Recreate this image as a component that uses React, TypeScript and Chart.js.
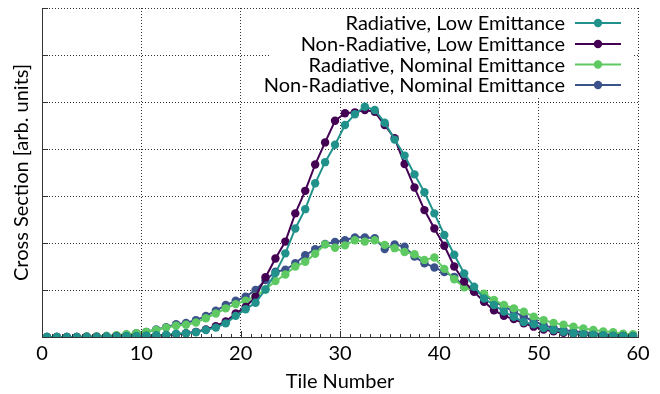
import { useEffect, useRef } from 'react';
import { Chart, registerables } from 'chart.js';

Chart.register(...registerables);

const tileNumbers = [
  0.5, 1.5, 2.5, 3.5, 4.5, 5.5, 6.5, 7.5, 8.5, 9.5,
  10.5, 11.5, 12.5, 13.5, 14.5, 15.5, 16.5, 17.5, 18.5, 19.5,
  20.5, 21.5, 22.5, 23.5, 24.5, 25.5, 26.5, 27.5, 28.5, 29.5,
  30.5, 31.5, 32.5, 33.5, 34.5, 35.5, 36.5, 37.5, 38.5, 39.5,
  40.5, 41.5, 42.5, 43.5, 44.5, 45.5, 46.5, 47.5, 48.5, 49.5,
  50.5, 51.5, 52.5, 53.5, 54.5, 55.5, 56.5, 57.5, 58.5, 59.5,
];

const radiativeLow = [
  0.0, 0.0, 0.0, 0.0, 0.0, 0.0, 0.01, 0.01, 0.02, 0.02,
  0.03, 0.04, 0.05, 0.07, 0.08, 0.10, 0.15, 0.20, 0.29, 0.45,
  0.59, 0.73, 1.01, 1.36, 1.78, 2.31, 2.72, 3.27, 3.72, 4.09,
  4.51, 4.74, 4.90, 4.83, 4.56, 4.20, 3.86, 3.46, 3.08, 2.63,
  2.17, 1.75, 1.35, 1.07, 0.82, 0.68, 0.54, 0.43, 0.32, 0.27,
  0.19, 0.15, 0.11, 0.08, 0.06, 0.05, 0.04, 0.03, 0.02, 0.02,
];

const nonRadiativeLow = [
  0.0, 0.0, 0.0, 0.0, 0.0, 0.0, 0.0, 0.01, 0.01, 0.01,
  0.02, 0.03, 0.04, 0.06, 0.08, 0.11, 0.16, 0.23, 0.33, 0.50,
  0.64, 0.86, 1.27, 1.67, 2.03, 2.63, 3.11, 3.67, 4.14, 4.60,
  4.76, 4.78, 4.83, 4.79, 4.51, 4.23, 3.68, 3.18, 2.70, 2.31,
  1.94, 1.50, 1.18, 0.96, 0.75, 0.57, 0.45, 0.38, 0.29, 0.22,
  0.16, 0.12, 0.09, 0.07, 0.05, 0.04, 0.03, 0.02, 0.02, 0.01,
];

const radiativeNominal = [
  0.0, 0.0, 0.0, 0.0, 0.01, 0.01, 0.02, 0.04, 0.06, 0.08,
  0.11, 0.15, 0.20, 0.24, 0.26, 0.31, 0.40, 0.50, 0.61, 0.70,
  0.77, 0.87, 1.01, 1.19, 1.33, 1.50, 1.60, 1.77, 1.97, 1.90,
  1.95, 2.06, 2.03, 2.06, 1.96, 1.89, 1.81, 1.76, 1.64, 1.69,
  1.45, 1.23, 1.06, 0.98, 0.92, 0.79, 0.68, 0.61, 0.54, 0.43,
  0.36, 0.30, 0.26, 0.22, 0.18, 0.15, 0.12, 0.10, 0.07, 0.06,
];

const nonRadiativeNominal = [
  0.0, 0.0, 0.0, 0.0, 0.01, 0.01, 0.02, 0.03, 0.05, 0.08,
  0.11, 0.16, 0.21, 0.27, 0.30, 0.36, 0.45, 0.56, 0.68, 0.77,
  0.86, 1.00, 1.21, 1.39, 1.43, 1.57, 1.74, 1.87, 1.98, 2.02,
  2.06, 2.12, 2.12, 2.10, 1.87, 1.97, 1.92, 1.71, 1.57, 1.48,
  1.38, 1.28, 1.07, 0.98, 0.90, 0.75, 0.65, 0.54, 0.43, 0.34,
  0.25, 0.19, 0.15, 0.12, 0.10, 0.08, 0.06, 0.05, 0.04, 0.03,
];

const seriesLabels = [
  'Radiative, Low Emittance',
  'Non-Radiative, Low Emittance',
  'Radiative, Nominal Emittance',
  'Non-Radiative, Nominal Emittance',
];
const seriesColors = ['#21918c', '#440154', '#5ec962', '#3b528b'];
const seriesValues = [radiativeLow, nonRadiativeLow, radiativeNominal, nonRadiativeNominal];

const xTicks = [0, 10, 20, 30, 40, 50, 60];
const yTicks = [0, 1, 2, 3, 4, 5, 6, 7];

const FONT = 'Lato, "DejaVu Sans", sans-serif';

const decorPlugin = {
  id: 'decor',
  afterDraw(chart: any) {
    const ctx = chart.ctx as CanvasRenderingContext2D;
    const xs = chart.scales.x;
    const ys = chart.scales.y;
    const area = chart.chartArea;
    ctx.save();
    ctx.strokeStyle = '#333';
    ctx.lineWidth = 1;
    ctx.beginPath();
    for (const t of xTicks) {
      const px = Math.round(xs.getPixelForValue(t)) + 0.5;
      ctx.moveTo(px, area.bottom);
      ctx.lineTo(px, area.bottom - 6);
    }
    for (let t = 0; t <= 60; t++) {
      const px = Math.round(xs.getPixelForValue(t)) + 0.5;
      ctx.moveTo(px, area.bottom);
      ctx.lineTo(px, area.bottom - 3);
    }
    for (const t of yTicks) {
      const py = Math.round(ys.getPixelForValue(t)) + 0.5;
      ctx.moveTo(area.left, py);
      ctx.lineTo(area.left + 6, py);
    }
    ctx.stroke();

    // legend
    const boxL = 270;
    const boxT = 11;
    const boxR = 632;
    const boxB = 97;
    ctx.fillStyle = '#fff';
    ctx.fillRect(boxL, boxT, boxR - boxL, boxB - boxT);
    ctx.font = `20px ${FONT}`;
    ctx.textAlign = 'right';
    ctx.textBaseline = 'middle';
    const rowY = [23, 44, 64.5, 85];
    seriesLabels.forEach((lab, i) => {
      const y = rowY[i];
      ctx.fillStyle = '#000';
      ctx.fillText(lab, 565, y + 1);
      ctx.strokeStyle = seriesColors[i];
      ctx.lineWidth = 2;
      ctx.beginPath();
      ctx.moveTo(575, y);
      ctx.lineTo(621, y);
      ctx.stroke();
      ctx.fillStyle = seriesColors[i];
      ctx.beginPath();
      ctx.arc(598, y, 4.2, 0, Math.PI * 2);
      ctx.fill();
    });
    ctx.restore();
  },
};

export default function App() {
  const ref = useRef<HTMLCanvasElement | null>(null);
  useEffect(() => {
    document.body.style.margin = '0';
    const canvas = ref.current;
    if (!canvas) return;
    const chart = new Chart(canvas, {
      type: 'line',
      data: {
        datasets: seriesValues.map((vals, i) => ({
          label: seriesLabels[i],
          data: tileNumbers.map((x, j) => ({ x, y: vals[j] })),
          borderColor: seriesColors[i],
          backgroundColor: seriesColors[i],
          borderWidth: 2,
          pointRadius: 4.2,
          pointHoverRadius: 4.2,
          pointBorderWidth: 0,
          tension: 0,
          fill: false,
        })),
      },
      options: {
        animation: false,
        responsive: false,
        maintainAspectRatio: false,
        layout: { padding: { top: 8, right: 22, left: 0, bottom: 0 } },
        plugins: {
          legend: { display: false },
          tooltip: { enabled: false },
        },
        scales: {
          x: {
            type: 'linear',
            min: 0,
            max: 60,
            afterFit: (s: any) => { s.height = 57; },
            afterBuildTicks: (s: any) => { s.ticks = xTicks.map((v) => ({ value: v })); },
            ticks: {
              font: { family: FONT, size: 20 },
              color: '#000',
              padding: 5,
              maxRotation: 0,
            },
            grid: {
              color: 'rgba(0,0,0,0.8)',
              lineWidth: 1,
              drawTicks: false,
            },
            border: { display: true, color: '#333', width: 1, dash: [1, 2] },
            title: {
              display: true,
              text: 'Tile Number',
              font: { family: FONT, size: 20 },
              color: '#000',
              padding: { top: 0, bottom: 0 },
            },
          },
          y: {
            type: 'linear',
            min: 0,
            max: 7,
            afterFit: (s: any) => { s.width = 42; },
            afterBuildTicks: (s: any) => { s.ticks = yTicks.map((v) => ({ value: v })); },
            ticks: { display: false },
            grid: {
              color: 'rgba(0,0,0,0.8)',
              lineWidth: 1,
              drawTicks: false,
            },
            border: { display: true, color: '#333', width: 1, dash: [1, 2] },
            title: {
              display: true,
              text: 'Cross Section [arb. units]',
              font: { family: FONT, size: 20 },
              color: '#000',
              padding: { top: 10, bottom: 0 },
            },
          },
        },
      },
      plugins: [decorPlugin],
    } as any);
    return () => chart.destroy();
  }, []);
  return <canvas ref={ref} width={660} height={394} style={{ display: 'block' }} />;
}
